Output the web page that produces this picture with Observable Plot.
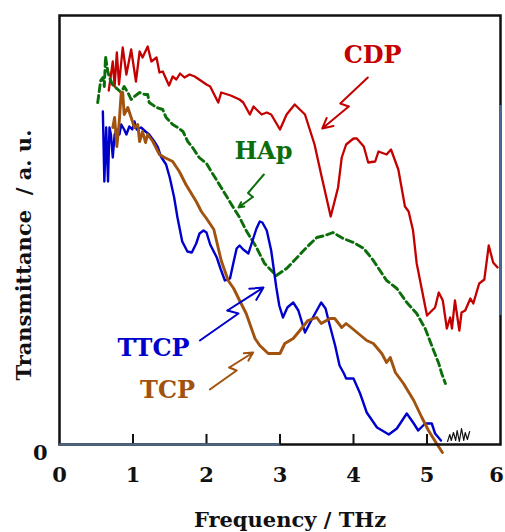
<!DOCTYPE html>
<html>
<head>
<meta charset="utf-8">
<script src="https://cdn.jsdelivr.net/npm/d3@7"></script>
<script src="https://cdn.jsdelivr.net/npm/@observablehq/plot@0.6"></script>
<style>
  html, body { margin: 0; padding: 0; background: #fff; }
</style>
</head>
<body>
<div id="chart"></div>
<script>
// ---- axis ticks ----
const freqTicks = [0, 1, 2, 3, 4, 5, 6];
const yTicks = [0];

// ---- CDP (red) ----
const cdpFreq = [0.67,0.725,0.75,0.78,0.81,0.86,0.91,0.975,1.04,1.09,1.13,1.20,1.25,1.32,1.36,1.405,1.49,1.54,1.59,1.64,1.70,1.77,1.84,1.90,2.00,2.05,2.16,2.20,2.33,2.45,2.50,2.59,2.64,2.68,2.75,2.82,2.88,3.00,3.09,3.20,3.34,3.47,3.56,3.69,3.79,3.84,3.90,4.00,4.045,4.14,4.20,4.295,4.34,4.45,4.51,4.61,4.70,4.75,4.81,4.86,5.00,5.11,5.16,5.215,5.27,5.315,5.34,5.38,5.44,5.47,5.52,5.59,5.63,5.71,5.78,5.84,5.90,5.96];
const cdpT = [354,383,358,392,360,397,370,395,363,393,387,398,383,387,372,373,359,368,365,371,367,370,368,365,360,358,342,352,349,345,342,330,338,335,330,332,330,315,330,340,330,300,270,228,257,287,300,306,306,298,282,283,293,290,295,275,238,233,214,181,129,137,152,144,116,127,116,144,114,132,134,146,141,161,165,199,182,177];

// ---- HAp (green, dashed) ----
const hapFreq = [0.52,0.56,0.59,0.61,0.626,0.657,0.68,0.72,0.81,0.84,0.88,0.93,0.975,1.02,1.09,1.16,1.20,1.22,1.32,1.405,1.45,1.54,1.61,1.68,1.745,1.81,1.90,2.00,2.09,2.20,2.34,2.45,2.54,2.68,2.79,2.95,3.09,3.22,3.36,3.50,3.61,3.72,3.86,4.00,4.14,4.27,4.36,4.45,4.59,4.725,4.86,4.975,5.09,5.16,5.20,5.25];
const hapT = [342,364,367,358,388,373,367,360,354,352,358,352,345,348,352,350,350,342,337,335,327,320,317,313,303,297,287,281,270,257,240,227,214,197,181,169,176,186,197,207,209,212,206,202,196,184,174,164,156,142,131,116,94,81,71,61];

// ---- TTCP (blue) ----
const ttcpFreq = [0.59,0.61,0.635,0.66,0.68,0.70,0.725,0.75,0.78,0.815,0.84,0.88,0.91,0.95,0.99,1.02,1.05,1.11,1.17,1.22,1.29,1.34,1.38,1.45,1.50,1.56,1.605,1.67,1.74,1.80,1.86,1.905,1.96,2.00,2.05,2.14,2.19,2.25,2.32,2.37,2.41,2.45,2.50,2.57,2.64,2.68,2.725,2.76,2.82,2.88,2.95,2.99,3.04,3.10,3.18,3.25,3.34,3.41,3.50,3.56,3.62,3.66,3.75,3.81,3.87,3.90,4.00,4.09,4.18,4.32,4.39,4.48,4.59,4.725,4.82,4.88,4.975,5.065,5.11,5.19];
const ttcpT = [333,263,317,263,317,310,287,310,315,310,320,315,310,318,315,323,315,317,313,310,303,297,288,280,267,247,227,203,193,192,201,211,214,212,200,187,176,164,166,183,196,199,195,191,207,216,223,222,214,194,157,139,127,137,142,134,112,122,134,142,136,124,99,79,71,66,66,51,32,17,14,10,16,31,21,14,21,21,11,4];

// ---- TCP (brown) ----
const tcpFreq = [0.725,0.75,0.78,0.81,0.84,0.86,0.88,0.93,0.975,1.02,1.065,1.09,1.13,1.17,1.20,1.27,1.36,1.43,1.54,1.63,1.72,1.86,1.93,2.00,2.10,2.20,2.295,2.37,2.45,2.54,2.66,2.725,2.84,3.00,3.065,3.18,3.27,3.38,3.50,3.56,3.68,3.745,3.84,3.90,4.00,4.18,4.27,4.385,4.45,4.50,4.57,4.68,4.82,4.93,5.02,5.13,5.21];
const tcpT = [317,327,298,320,352,352,330,337,327,317,320,303,313,302,310,303,290,287,283,273,260,243,233,226,215,184,164,156,144,131,106,99,91,91,101,106,114,124,127,121,126,126,117,121,115,104,101,91,82,87,72,61,44,27,14,1,-8];

// ---- baseline noise (black) ----
const noiseFreq = [5.28,5.31,5.33,5.36,5.39,5.41,5.44,5.47,5.50,5.52,5.55,5.58];
const noiseT = [3,10,4,12,4,14,3,16,4,12,5,13];

// ---- labels & lightning arrows ----
const labelNames = ["CDP", "HAp", "TTCP", "TCP"];
const labelFreq = [4.26, 2.775, 1.28, 1.47];
const labelT = [389, 293, 96, 54];
const labelColors = ["#c40000", "#0b6e0b", "#0000cc", "#a0520e"];
const arrowPaths = [
  [[4.195,367],[3.82,341],[3.935,338],[3.575,316]],
  [[2.78,270],[2.565,251.5],[2.63,247.5],[2.435,237]],
  [[1.91,104],[2.435,131],[2.285,134],[2.775,157]],
  [[2.045,55],[2.41,74],[2.31,77],[2.635,92]]
];

// ---- odd coloured frame segments ----
const bottomBlueSpan = [0, 3];
const rightBlueSpan = [129, 339];

const rows = (fx, ty, name) => fx.map((f, i) => ({f, t: ty[i], name}));
const cdp = rows(cdpFreq, cdpT, "CDP");
const hap = rows(hapFreq, hapT, "HAp");
const ttcp = rows(ttcpFreq, ttcpT, "TTCP");
const tcp = rows(tcpFreq, tcpT, "TCP");
const noise = rows(noiseFreq, noiseT, "noise");
const labels = labelNames.map((n, i) => ({n, f: labelFreq[i], t: labelT[i], c: labelColors[i]}));

const arrowLines = [];
const arrowHeads = [];
arrowPaths.forEach((p, k) => {
  for (let i = 0; i < p.length - 1; i++) arrowLines.push({k, f: p[i][0], t: p[i][1], c: labelColors[k]});
  arrowHeads.push({x1: p[p.length - 2][0], y1: p[p.length - 2][1], x2: p[p.length - 1][0], y2: p[p.length - 1][1], c: labelColors[k]});
});

const chart = Plot.plot({
  width: 505,
  height: 532,
  marginTop: 15,
  marginBottom: 88,
  marginLeft: 59,
  marginRight: 5,
  x: {domain: [0, 6]},
  y: {domain: [0, 429]},
  style: {fontFamily: "'DejaVu Serif', serif", fontSize: "21px", fontWeight: "bold", background: "#fff", color: "#111", overflow: "visible"},
  marks: [
    Plot.axisX(freqTicks.slice(0, -1), {tickSize: 0, tickPadding: 23, label: null, fontSize: 21}),
    Plot.axisX(freqTicks.slice(-1), {tickSize: 0, tickPadding: 23, label: null, fontSize: 21, dx: -4}),
    Plot.axisY(yTicks, {tickSize: 0, tickPadding: 12, dy: 9, label: null, fontSize: 21}),
    Plot.ruleX(freqTicks.slice(1, -1), {insetTop: 419, stroke: "#111", strokeWidth: 2}),
    Plot.line(noise, {x: "f", y: "t", stroke: "#111", strokeWidth: 1.2}),
    Plot.line(cdp, {x: "f", y: "t", stroke: "#c40000", strokeWidth: 2.3, strokeLinejoin: "round"}),
    Plot.line(hap, {x: "f", y: "t", stroke: "#0b6e0b", strokeWidth: 2.9, strokeDasharray: "7,4"}),
    Plot.line(ttcp, {x: "f", y: "t", stroke: "#0000cc", strokeWidth: 2.4, strokeLinejoin: "round"}),
    Plot.line(tcp, {x: "f", y: "t", stroke: "#a0520e", strokeWidth: 2.9, strokeLinejoin: "round"}),
    Plot.line(arrowLines, {x: "f", y: "t", z: "k", stroke: "c", strokeWidth: 2}),
    Plot.arrow(arrowHeads, {x1: "x1", y1: "y1", x2: "x2", y2: "y2", stroke: "c", strokeWidth: 2, headLength: 13, headAngle: 55}),
    Plot.text(labels, {x: "f", y: "t", text: "n", fill: "c", fontSize: 24, fontWeight: "bold"}),
    Plot.frame({stroke: "#111", strokeWidth: 2.5}),
    Plot.ruleY([0], {x1: bottomBlueSpan[0], x2: bottomBlueSpan[1], stroke: "#4b6585", strokeWidth: 2.5}),
    Plot.ruleX([6], {y1: rightBlueSpan[0], y2: rightBlueSpan[1], stroke: "#4b6a92", strokeWidth: 2.5}),
    Plot.text(["Frequency / THz"], {frameAnchor: "bottom", lineAnchor: "middle", dx: 10, dy: 76, fontSize: 21, fontWeight: "bold", fill: "#111"}),
    Plot.text(["Transmittance\u00a0\u00a0/ a. u."], {frameAnchor: "left", textAnchor: "middle", lineAnchor: "middle", rotate: -90, dx: -35, dy: 25, fontSize: 21, fontWeight: "bold", fill: "#111"})
  ]
});
document.getElementById("chart").appendChild(chart);
</script>
</body>
</html>
